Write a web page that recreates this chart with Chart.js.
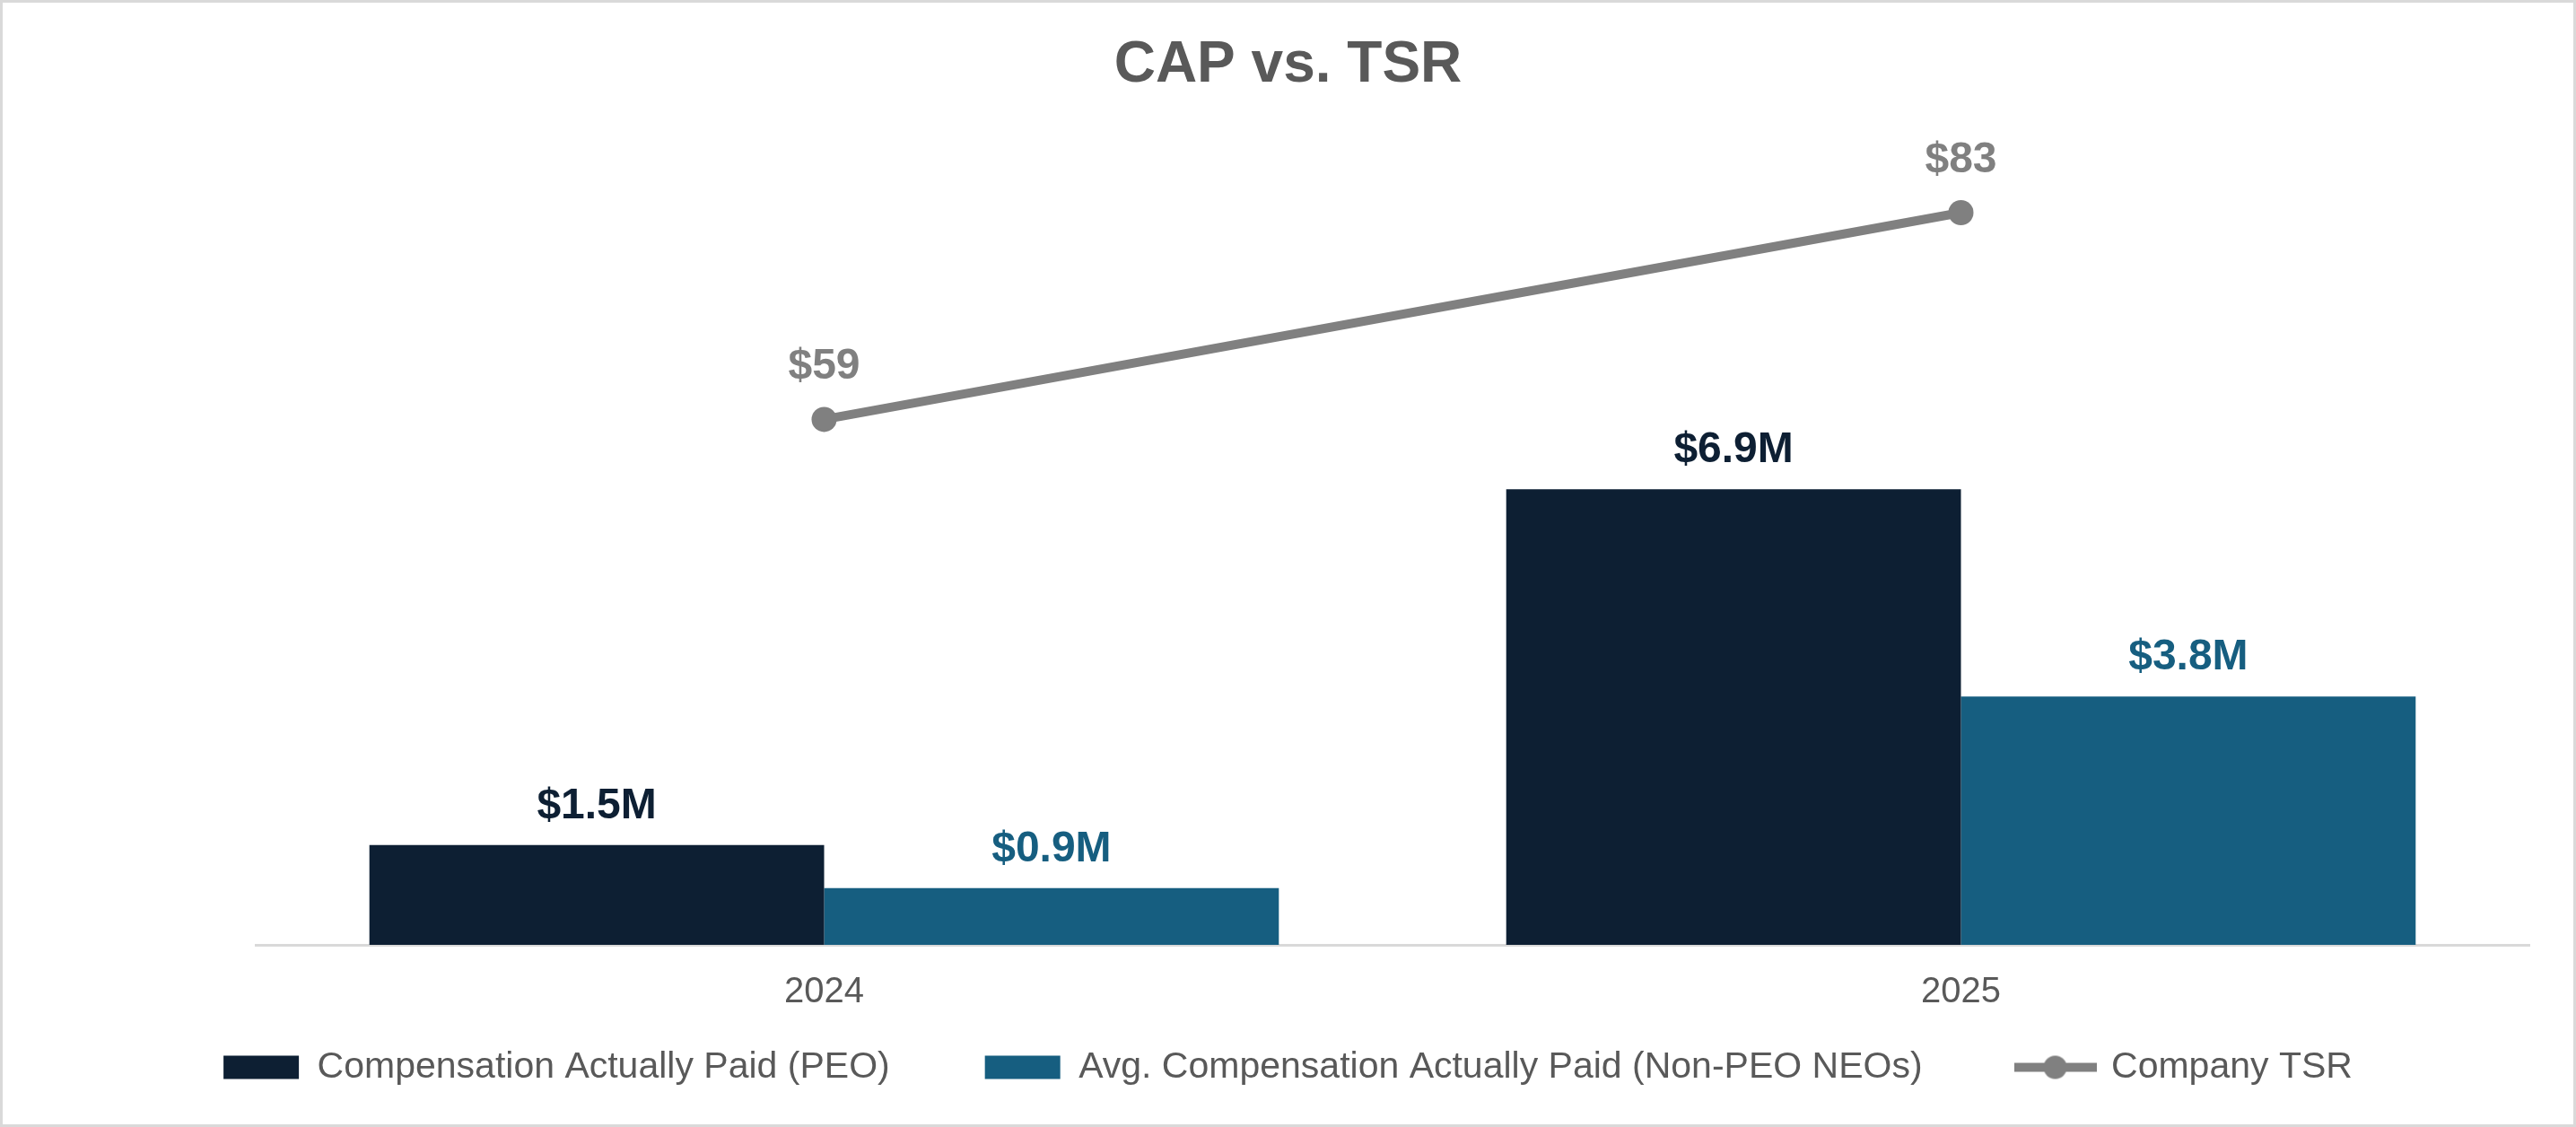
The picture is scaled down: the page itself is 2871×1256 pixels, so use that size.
<!DOCTYPE html>
<html lang="en">
<head>
  <meta charset="UTF-8">
  <title>CAP vs. TSR</title>
  <script src="https://cdn.jsdelivr.net/npm/chart.js"></script>
  <style>
    html, body {
      margin: 0;
      padding: 0;
      background: #fff;
    }

    .frame {
      width: 2871px;
      height: 1256px;
      box-sizing: border-box;
      border: 3px solid #d9d9d9;
      background: #fff;
    }

    .chart-box {
      position: relative;
      width: 2865px;
      height: 1250px;
    }
  </style>
</head>
<body>
  <div class="frame">
    <div class="chart-box">
      <canvas id="capChart"></canvas>
    </div>
  </div>

  <script>
    // values ($M for CAP, $ for TSR)
    const years = ['2024', '2025'];
    const capPeo = [1.51, 6.9];
    const capNonPeo = [0.86, 3.76];
    const companyTsr = [59, 83];

    const FONT = '"Liberation Sans", Arial, sans-serif';
    const NAVY = '#0d1f33';
    const TEAL = '#165e80';
    const GREY = '#808080';
    const TEXT = '#595959';

    // little line + dot icon for the TSR legend entry
    function tsrIcon() {
      const c = document.createElement('canvas');
      c.width = 92;
      c.height = 30;
      const g = c.getContext('2d');
      g.strokeStyle = GREY;
      g.lineWidth = 10;
      g.beginPath();
      g.moveTo(0, 15);
      g.lineTo(92, 15);
      g.stroke();
      g.fillStyle = GREY;
      g.beginPath();
      g.arc(46, 15, 13, 0, Math.PI * 2);
      g.fill();
      return c;
    }
    const tsrLegendIcon = tsrIcon();

    // draws the value labels above bars and points
    const valueLabels = {
      id: 'valueLabels',
      afterLayout(chart) {
        // x axis box is kept short for the legend, but its labels must not be clipped
        const x = chart.scales.x;
        x.bottom = x.top + 100;
        x.height = 100;
      },
      afterDatasetsDraw(chart) {
        const ctx = chart.ctx;
        ctx.save();
        ctx.textAlign = 'center';
        ctx.textBaseline = 'alphabetic';
        ctx.font = 'bold 48px ' + FONT;
        chart.data.datasets.forEach((ds, i) => {
          const meta = chart.getDatasetMeta(i);
          if (meta.hidden) return;
          meta.data.forEach((el, j) => {
            const v = ds.data[j];
            const text = ds.type === 'line' ? '$' + v : '$' + v.toFixed(1) + 'M';
            const gap = ds.type === 'line' ? 45 : 30;
            ctx.fillStyle = ds.labelColor;
            ctx.fillText(text, el.x, el.y - gap);
          });
        });
        ctx.restore();
      }
    };

    new Chart(document.getElementById('capChart'), {
      data: {
        labels: years,
        datasets: [
          {
            type: 'line',
            label: 'Company TSR',
            data: companyTsr,
            yAxisID: 'y2',
            borderColor: GREY,
            borderWidth: 10,
            pointRadius: 14,
            pointHoverRadius: 14,
            pointBackgroundColor: GREY,
            pointBorderWidth: 0,
            labelColor: GREY,
            order: 0
          },
          {
            type: 'bar',
            label: 'Compensation Actually Paid (PEO)',
            data: capPeo,
            yAxisID: 'y',
            backgroundColor: NAVY,
            labelColor: NAVY,
            categoryPercentage: 0.8,
            barPercentage: 1.0,
            order: 1
          },
          {
            type: 'bar',
            label: 'Avg. Compensation Actually Paid (Non-PEO NEOs)',
            data: capNonPeo,
            yAxisID: 'y',
            backgroundColor: TEAL,
            labelColor: TEAL,
            categoryPercentage: 0.8,
            barPercentage: 1.0,
            order: 1
          }
        ]
      },
      options: {
        responsive: true,
        maintainAspectRatio: false,
        animation: false,
        layout: {
          padding: { top: 0, bottom: 33, left: 0, right: 0 }
        },
        scales: {
          x: {
            grid: { display: false, drawTicks: false },
            border: { display: true, color: '#d9d9d9', width: 3 },
            ticks: {
              color: TEXT,
              padding: 29,
              font: { family: FONT, size: 40 }
            },
            afterFit(scale) { scale.height = 10; }
          },
          y: {
            position: 'left',
            min: 0,
            max: 12,
            grid: { display: false },
            border: { display: false },
            ticks: { display: false },
            afterFit(scale) { scale.width = 282; }
          },
          y2: {
            position: 'right',
            min: -2,
            max: 90,
            grid: { display: false },
            border: { display: false },
            ticks: { display: false },
            afterFit(scale) { scale.width = 49; }
          }
        },
        plugins: {
          title: {
            display: true,
            text: 'CAP vs. TSR',
            color: TEXT,
            font: { family: FONT, size: 64, weight: 'bold' },
            padding: { top: 32, bottom: 58 }
          },
          legend: {
            position: 'bottom',
            labels: {
              color: TEXT,
              font: { family: FONT, size: 41 },
              usePointStyle: true,
              pointStyleWidth: 84,
              boxHeight: 26,
              padding: 106,
              sort: (a, b) => {
                const rank = t => t.text === 'Company TSR' ? 2 : (t.text.startsWith('Avg.') ? 1 : 0);
                return rank(a) - rank(b);
              },
              generateLabels(chart) {
                const items = Chart.defaults.plugins.legend.labels.generateLabels(chart);
                items.forEach(it => {
                  const ds = chart.data.datasets[it.datasetIndex];
                  if (ds.type === 'line') {
                    it.pointStyle = tsrLegendIcon;
                  } else {
                    it.pointStyle = 'rect';
                    it.fillStyle = ds.backgroundColor;
                    it.lineWidth = 0;
                  }
                });
                return items;
              }
            }
          },
          tooltip: { enabled: false }
        }
      },
      plugins: [valueLabels]
    });
  </script>
</body>
</html>
